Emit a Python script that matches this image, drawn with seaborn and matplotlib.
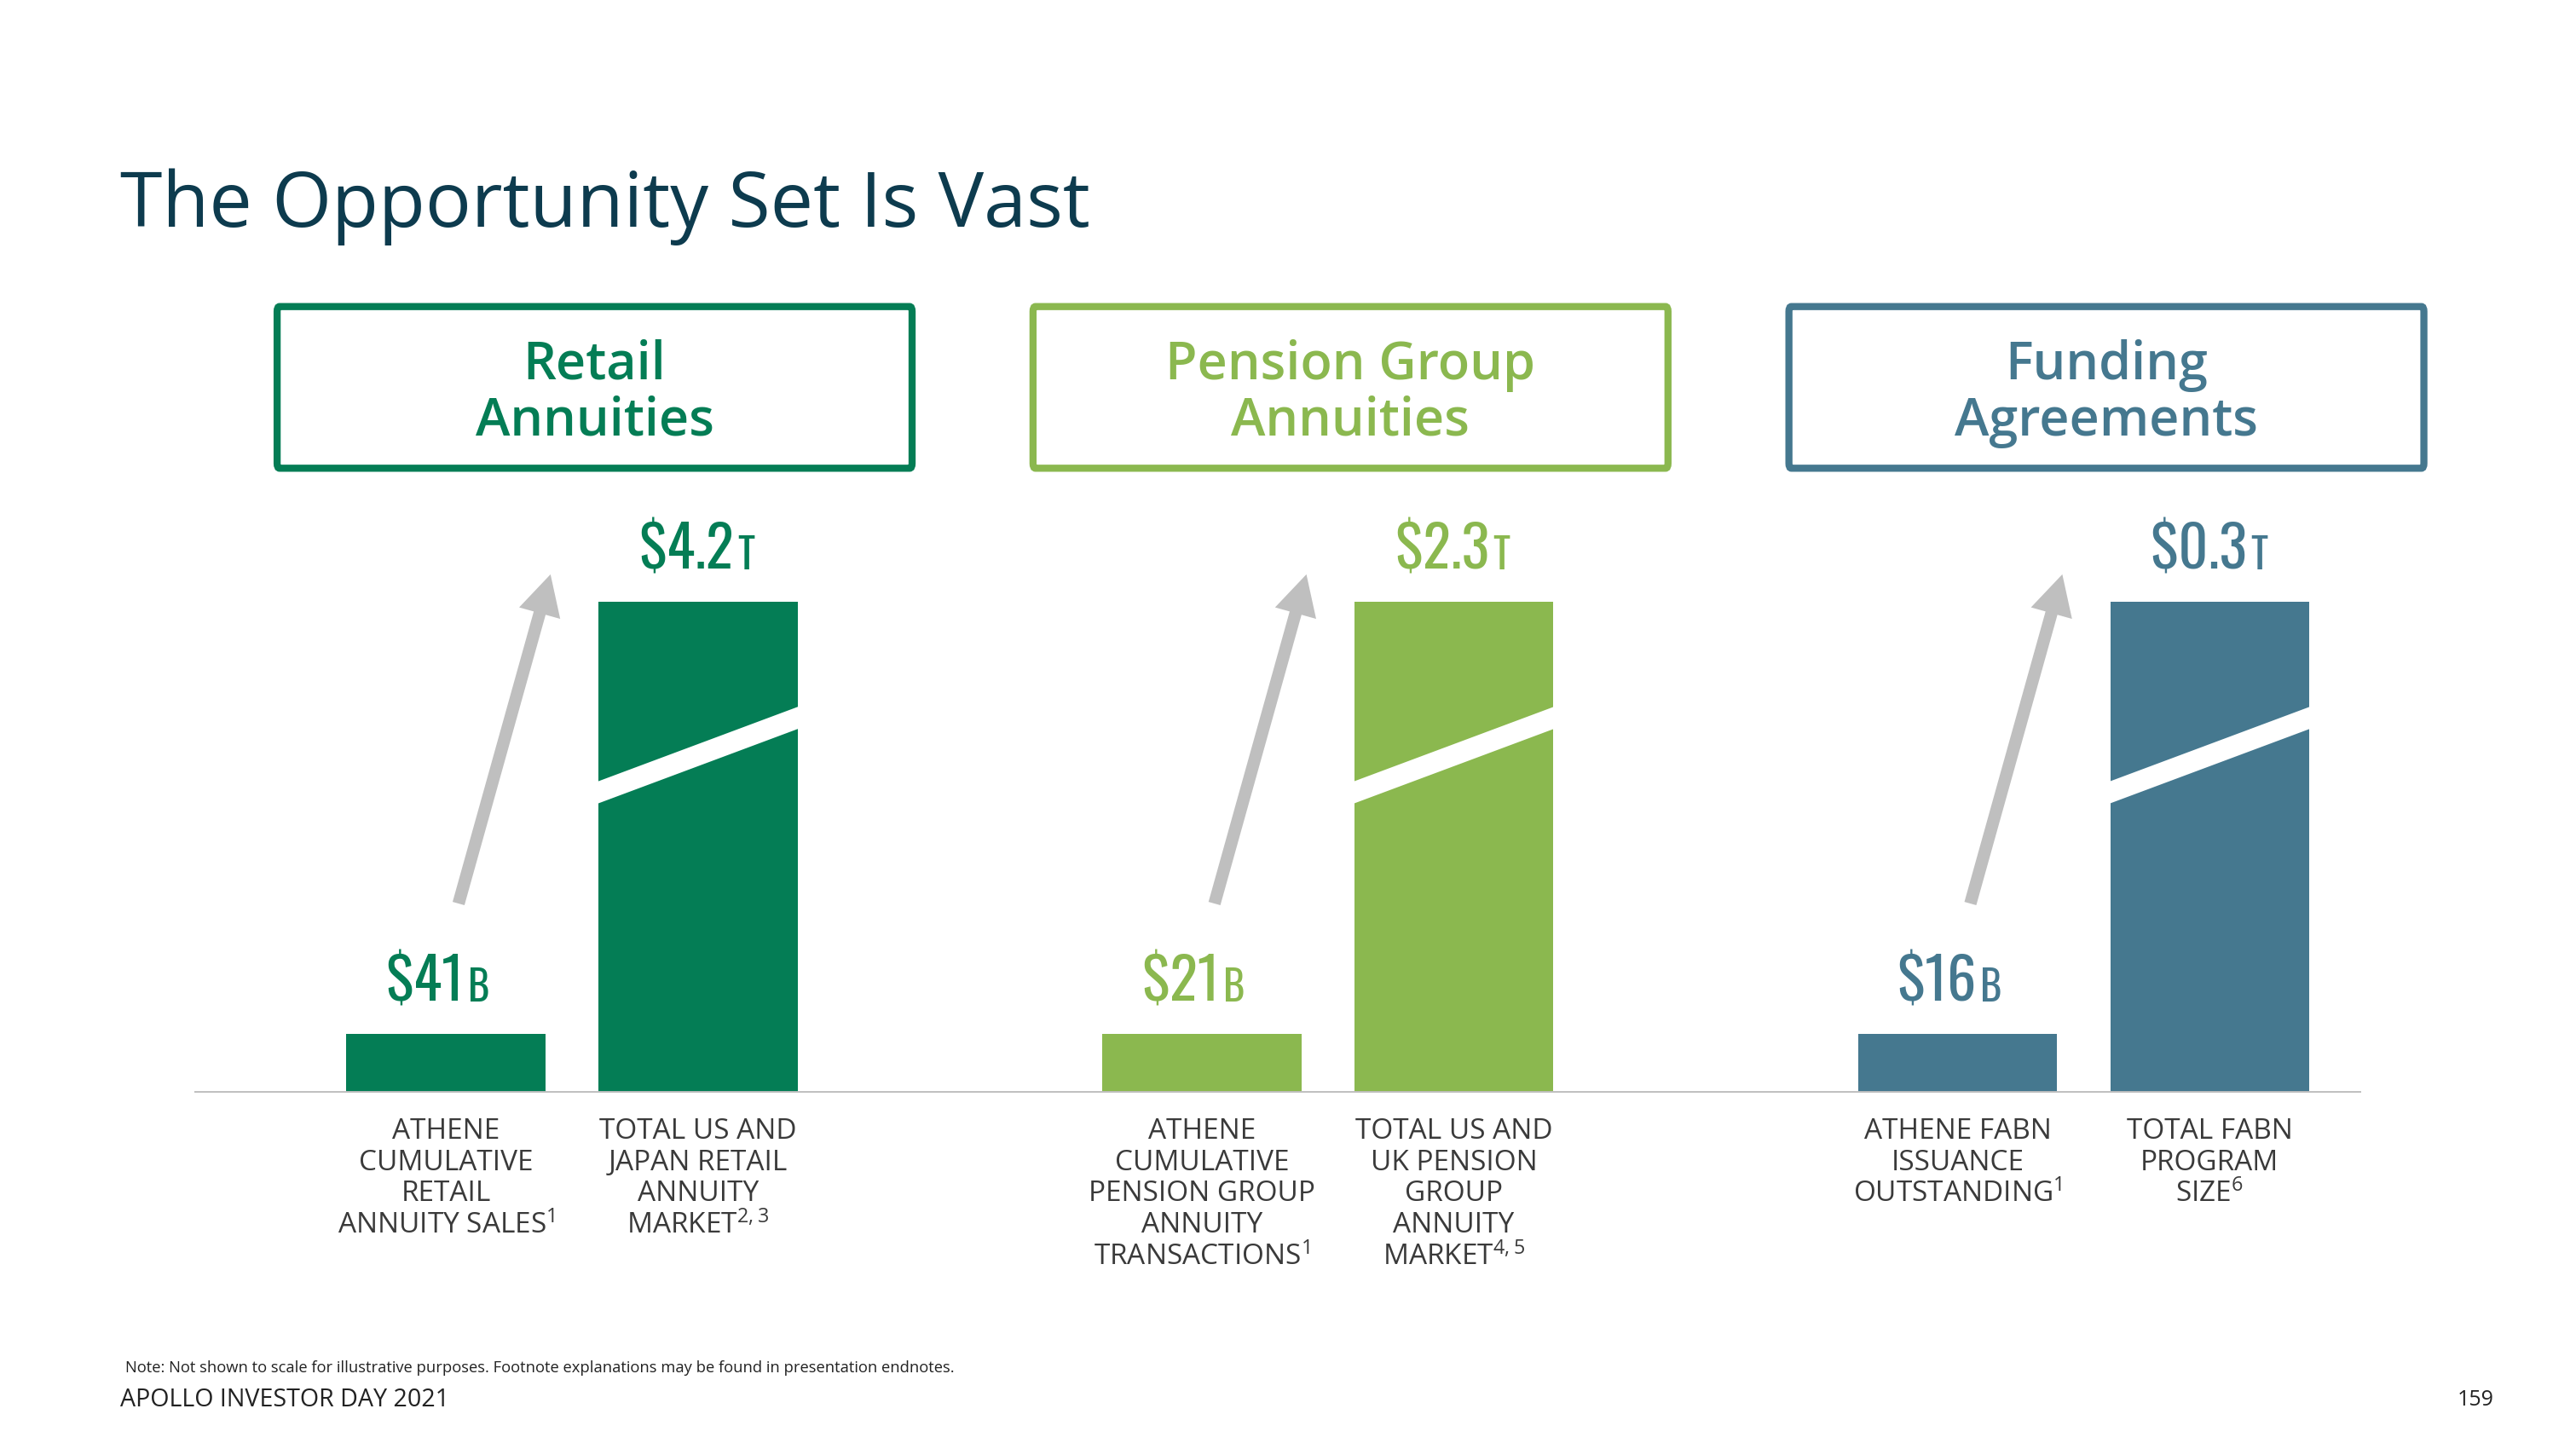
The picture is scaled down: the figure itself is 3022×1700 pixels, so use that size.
import pandas as pd
import numpy as np
import matplotlib.pyplot as plt
import matplotlib.patches as mpatches
from matplotlib.offsetbox import TextArea, HPacker, AnnotationBbox
import seaborn as sns

sns.set_style("white")
plt.rcParams['font.family'] = ['Open Sans', 'DejaVu Sans']
plt.rcParams['mathtext.fontset'] = 'custom'
plt.rcParams['mathtext.rm'] = 'Open Sans'
plt.rcParams['mathtext.it'] = 'Open Sans'

GREEN = '#047D55'
LIME = '#8BB84F'
STEEL = '#45788F'
ARROW = '#BFBFBF'
TITLE = '#0D3B4E'
LABEL = '#3A3A3A'
NUMFONT = ['Oswald', 'DejaVu Sans']

# ---- data (bars are illustrative, not to scale) ----
groups = ['Retail\nAnnuities', 'Pension Group\nAnnuities', 'Funding\nAgreements']
group_colors = [GREEN, LIME, STEEL]
athene_values = ['$41', '$21', '$16']
athene_units = ['B', 'B', 'B']
market_values = ['$4.2', '$2.3', '$0.3']
market_units = ['T', 'T', 'T']
athene_height = [0.12, 0.12, 0.12]
market_height = [1.0, 1.0, 1.0]
athene_labels = ['ATHENE\nCUMULATIVE\nRETAIL\nANNUITY SALES$^{1}$',
                 'ATHENE\nCUMULATIVE\nPENSION GROUP\nANNUITY\nTRANSACTIONS$^{1}$',
                 'ATHENE FABN\nISSUANCE\nOUTSTANDING$^{1}$']
market_labels = ['TOTAL US AND\nJAPAN RETAIL\nANNUITY\nMARKET$^{2,3}$',
                 'TOTAL US AND\nUK PENSION\nGROUP\nANNUITY\nMARKET$^{4,5}$',
                 'TOTAL FABN\nPROGRAM\nSIZE$^{6}$']

# positions: athene bar, market bar, one empty slot per group
pos_small = [3 * i for i in range(3)]
pos_big = [3 * i + 1 for i in range(3)]

df = pd.DataFrame({
    'pos': pos_small + pos_big,
    'height': athene_height + market_height,
    'grp': [g.replace('\n', ' ') for g in groups] * 2,
})
pal = {g.replace('\n', ' '): c for g, c in zip(groups, group_colors)}

fig = plt.figure(figsize=(15.11, 8.5), dpi=200)
ax = fig.add_axes([0.0753, 0.2459, 0.8412, 0.5493])

sns.barplot(data=df, x='pos', y='height', hue='grp', palette=pal, native_scale=True,
            dodge=False, width=0.79, saturation=1, linewidth=0, legend=False, ax=ax)
ax.set_xlim(-1.0, 7.6)
ax.set_ylim(0, 1.62)
ax.axis('off')
ax.axhline(0, color='#BFBFBF', lw=1.4, zorder=3)

half = 0.395
for i in range(3):
    xs, xb = pos_small[i], pos_big[i]
    hs, hb = athene_height[i], market_height[i]
    col = group_colors[i]

    # white break across the tall bar
    band = mpatches.Polygon([(xb - half - 0.01, 0.587 * hb), (xb + half + 0.01, 0.742 * hb),
                             (xb + half + 0.01, 0.787 * hb), (xb - half - 0.01, 0.632 * hb)],
                            closed=True, facecolor='white', edgecolor='none', zorder=4)
    ax.add_patch(band)

    # growth arrow
    ax.annotate('', xy=(xs + 0.415, 1.055), xytext=(xs + 0.05, 0.385),
                arrowprops=dict(arrowstyle='simple,head_length=0.85,head_width=0.9,tail_width=0.26',
                                color=ARROW, mutation_scale=20, shrinkA=0, shrinkB=0, lw=0))

    # value labels
    for x, h, v, u, dx in [(xs, hs, athene_values[i], athene_units[i], -3.5),
                           (xb, hb, market_values[i], market_units[i], -0.5)]:
        box = HPacker(children=[
            TextArea(v, textprops=dict(fontsize=24.5, color=col, family=NUMFONT)),
            TextArea(u, textprops=dict(fontsize=17.5, color=col, family=NUMFONT))],
            align='baseline', pad=0, sep=1.5)
        ab = AnnotationBbox(box, (x, h), xybox=(dx, 9), xycoords='data', boxcoords='offset points',
                            box_alignment=(0.5, 0), frameon=False, pad=0)
        ax.add_artist(ab)

    # category labels
    ax.text(xs, -0.05, athene_labels[i], ha='center', va='top', fontsize=12,
            color=LABEL, linespacing=1.15)
    ax.text(xb, -0.05, market_labels[i], ha='center', va='top', fontsize=12,
            color=LABEL, linespacing=1.15)

    # header box
    cx = xs + 0.59
    rect = mpatches.FancyBboxPatch((cx - 1.26, 1.271), 2.52, 0.329,
                                   boxstyle='round,pad=0,rounding_size=0.01',
                                   facecolor='white', edgecolor=col, lw=3, clip_on=False, zorder=2)
    ax.add_patch(rect)
    ax.text(cx, 1.423, groups[i], ha='center', va='center', fontsize=22, color=col,
            fontweight='semibold', linespacing=1.08, clip_on=False)

fig.text(0.0466, 0.8435, 'The Opportunity Set Is Vast', fontsize=32.3, color=TITLE,
         ha='left', va='baseline')
fig.text(0.0485, 0.0556, 'Note: Not shown to scale for illustrative purposes. '
         'Footnote explanations may be found in presentation endnotes.',
         fontsize=6.6, color='#222222', ha='left', va='center')
fig.text(0.0466, 0.034, 'APOLLO INVESTOR DAY 2021', fontsize=10.3, color='#222222',
         ha='left', va='center')
fig.text(0.968, 0.034, '159', fontsize=9, color='#222222', ha='right', va='center')

plt.savefig('out.png', dpi=200)
plt.close()
